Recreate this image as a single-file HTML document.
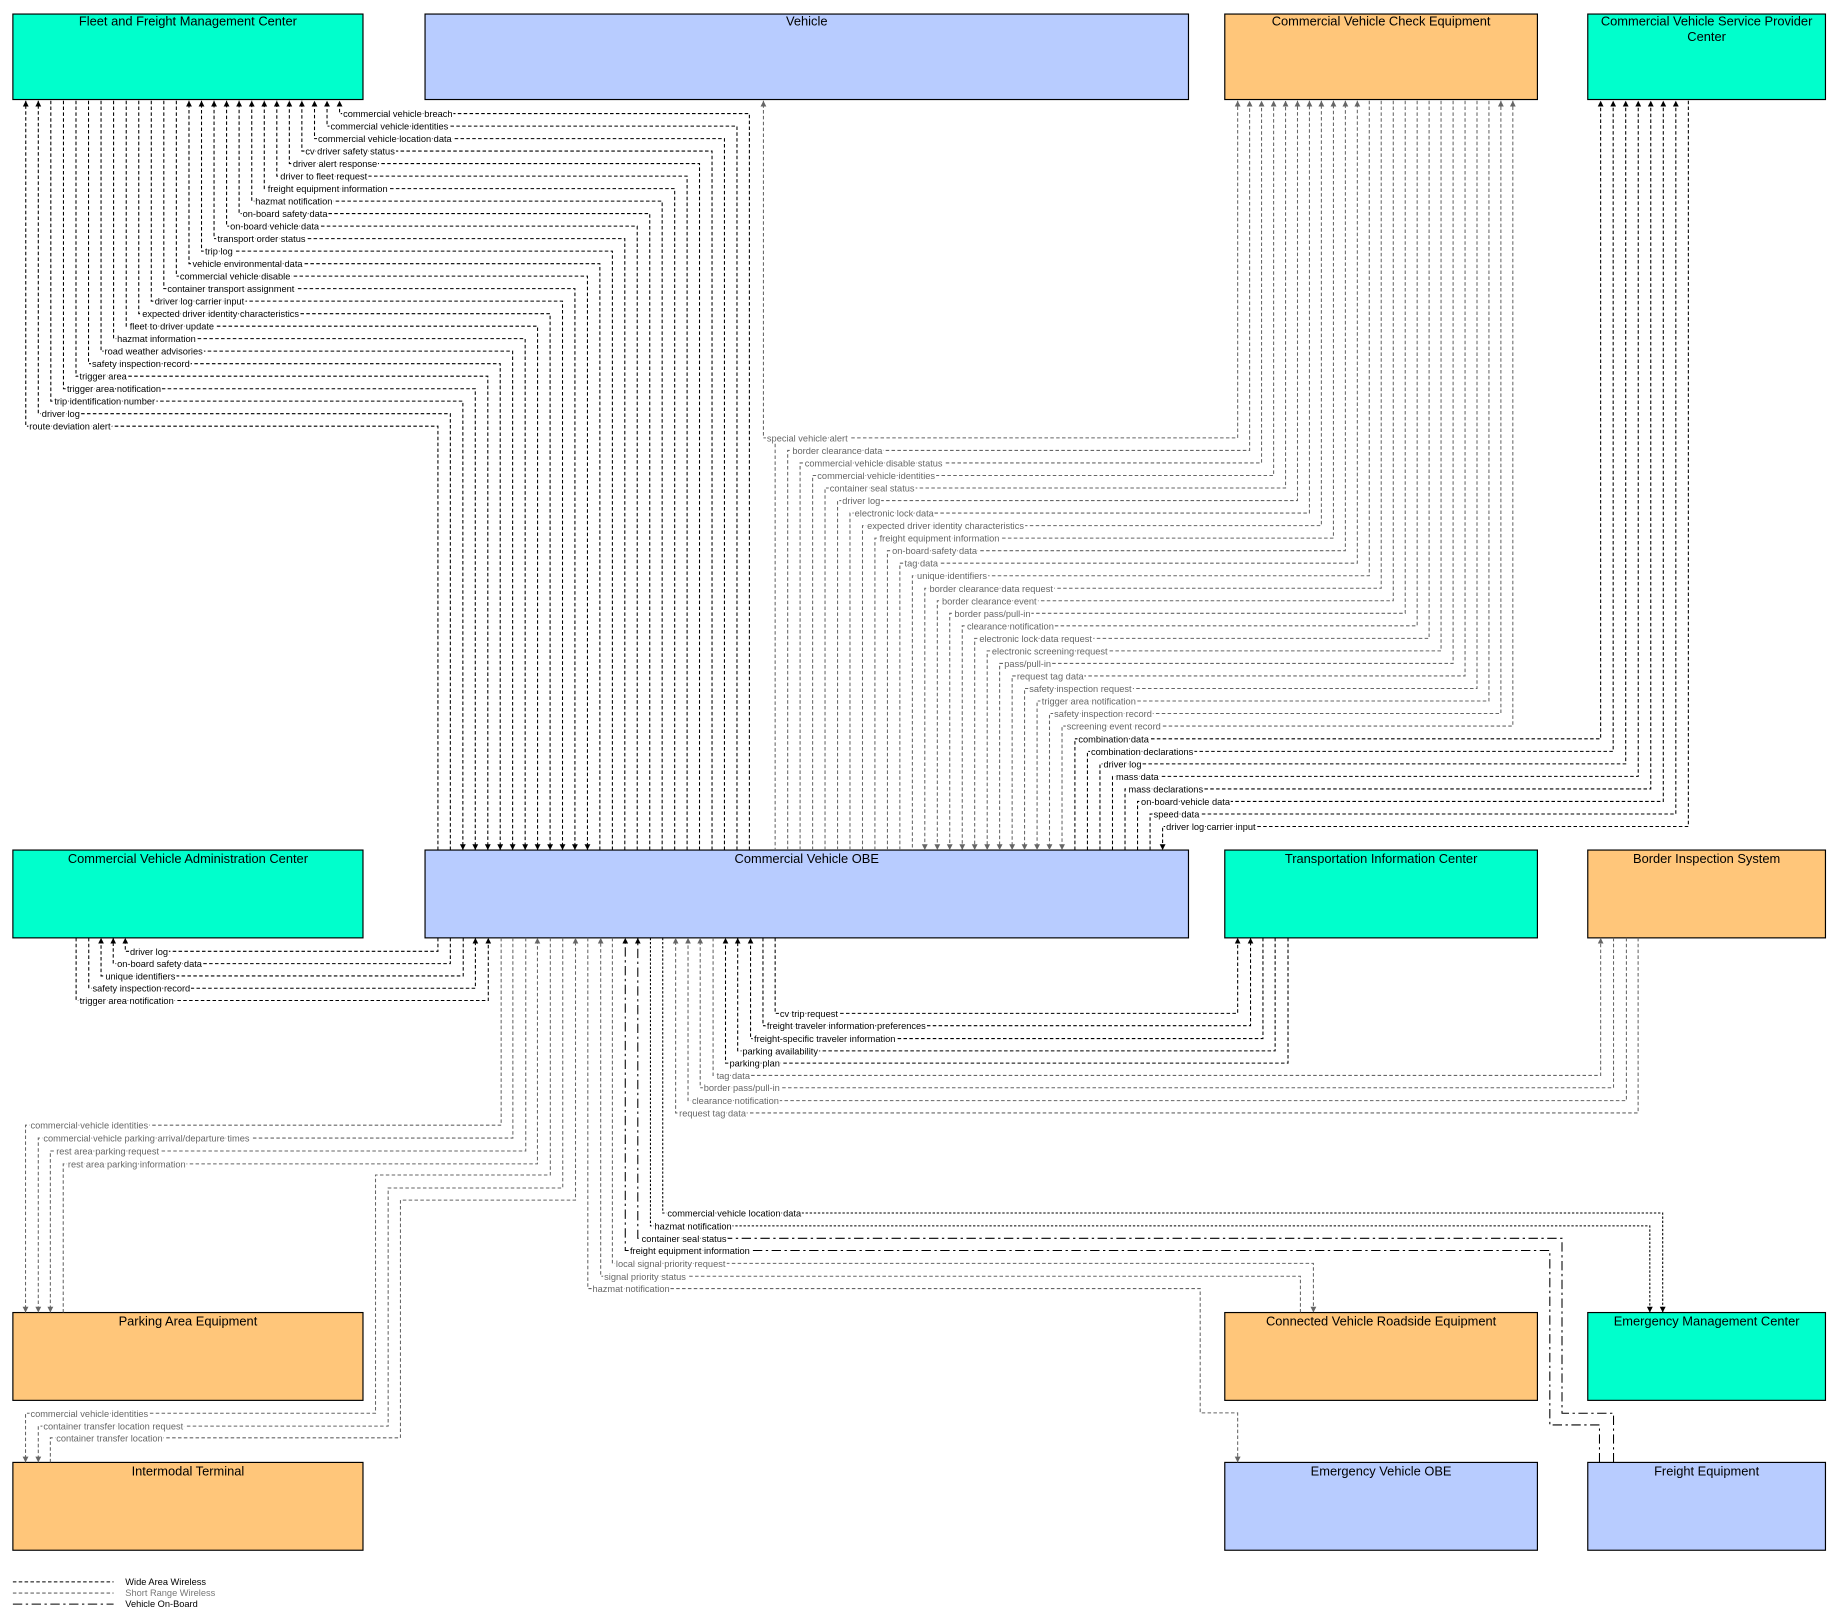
<!DOCTYPE html>
<html><head><meta charset="utf-8"><style>
html,body{margin:0;padding:0;background:#fff;}
svg{display:block;}
text{font-family:"Liberation Sans",Arial,sans-serif;}
.t{font-size:11px;fill:#000;text-anchor:middle;}
.l{font-size:7.9px;fill:#000;paint-order:stroke;stroke:#fff;stroke-width:2.5px;}
.lg{font-size:7.9px;fill:#666;paint-order:stroke;stroke:#fff;stroke-width:2.5px;}
.w{fill:none;stroke:#000;stroke-width:0.9;stroke-dasharray:3,2;}
.s{fill:none;stroke:#666;stroke-width:0.9;stroke-dasharray:3,2;}
.d{fill:none;stroke:#000;stroke-width:0.9;stroke-dasharray:2,1.5;}
.v{fill:none;stroke:#000;stroke-width:0.9;stroke-dasharray:8,3,2,3;}
.b{stroke:#000;stroke-width:1;}
</style></head><body>
<svg width="1836" height="1624" viewBox="0 0 1568 1387" preserveAspectRatio="none" xmlns="http://www.w3.org/2000/svg">
<defs>
<marker id="ab" markerUnits="userSpaceOnUse" markerWidth="6" markerHeight="6" refX="5" refY="3" orient="auto-start-reverse"><path d="M0,0.5 L5,3 L0,5.5 Z" fill="#000"/></marker>
<marker id="ag" markerUnits="userSpaceOnUse" markerWidth="6" markerHeight="6" refX="5" refY="3" orient="auto-start-reverse"><path d="M0,0.5 L5,3 L0,5.5 Z" fill="#666"/></marker>
</defs>
<rect width="1568" height="1387" fill="#fff"/>

<!-- Boxes -->
<rect class="b" x="11" y="12" width="299" height="73" fill="#00FFCC"/><text class="t" x="160.5" y="22">Fleet and Freight Management Center</text>
<rect class="b" x="363" y="12" width="652" height="73" fill="#B8CCFF"/><text class="t" x="689" y="22">Vehicle</text>
<rect class="b" x="1046" y="12" width="267" height="73" fill="#FFC67A"/><text class="t" x="1179.5" y="22">Commercial Vehicle Check Equipment</text>
<rect class="b" x="1356" y="12" width="203" height="73" fill="#00FFCC"/><text class="t" x="1457.5" y="22">Commercial Vehicle Service Provider</text><text class="t" x="1457.5" y="35">Center</text>
<rect class="b" x="11" y="726" width="299" height="75" fill="#00FFCC"/><text class="t" x="160.5" y="737">Commercial Vehicle Administration Center</text>
<rect class="b" x="363" y="726" width="652" height="75" fill="#B8CCFF"/><text class="t" x="689" y="737">Commercial Vehicle OBE</text>
<rect class="b" x="1046" y="726" width="267" height="75" fill="#00FFCC"/><text class="t" x="1179.5" y="737">Transportation Information Center</text>
<rect class="b" x="1356" y="726" width="203" height="75" fill="#FFC67A"/><text class="t" x="1457.5" y="737">Border Inspection System</text>
<rect class="b" x="11" y="1121" width="299" height="75" fill="#FFC67A"/><text class="t" x="160.5" y="1132">Parking Area Equipment</text>
<rect class="b" x="1046" y="1121" width="267" height="75" fill="#FFC67A"/><text class="t" x="1179.5" y="1132">Connected Vehicle Roadside Equipment</text>
<rect class="b" x="1356" y="1121" width="203" height="75" fill="#00FFCC"/><text class="t" x="1457.5" y="1132">Emergency Management Center</text>
<rect class="b" x="11" y="1249" width="299" height="75" fill="#FFC67A"/><text class="t" x="160.5" y="1260">Intermodal Terminal</text>
<rect class="b" x="1046" y="1249" width="267" height="75" fill="#B8CCFF"/><text class="t" x="1179.5" y="1260">Emergency Vehicle OBE</text>
<rect class="b" x="1356" y="1249" width="203" height="75" fill="#B8CCFF"/><text class="t" x="1457.5" y="1260">Freight Equipment</text>

<!-- Fleet <-> OBE -->
<polyline class="w" points="640,726 640,97 290,97 290,86" marker-end="url(#ab)"/>
<polyline class="w" points="629.4,726 629.4,107.7 279.3,107.7 279.3,86" marker-end="url(#ab)"/>
<polyline class="w" points="618.7,726 618.7,118.4 268.6,118.4 268.6,86" marker-end="url(#ab)"/>
<polyline class="w" points="608.1,726 608.1,129 257.8,129 257.8,86" marker-end="url(#ab)"/>
<polyline class="w" points="597.4,726 597.4,139.7 247.1,139.7 247.1,86" marker-end="url(#ab)"/>
<polyline class="w" points="586.8,726 586.8,150.4 236.4,150.4 236.4,86" marker-end="url(#ab)"/>
<polyline class="w" points="576.2,726 576.2,161.1 225.7,161.1 225.7,86" marker-end="url(#ab)"/>
<polyline class="w" points="565.5,726 565.5,171.8 215,171.8 215,86" marker-end="url(#ab)"/>
<polyline class="w" points="554.9,726 554.9,182.4 204.2,182.4 204.2,86" marker-end="url(#ab)"/>
<polyline class="w" points="544.2,726 544.2,193.1 193.5,193.1 193.5,86" marker-end="url(#ab)"/>
<polyline class="w" points="533.6,726 533.6,203.8 182.8,203.8 182.8,86" marker-end="url(#ab)"/>
<polyline class="w" points="523,726 523,214.5 172.1,214.5 172.1,86" marker-end="url(#ab)"/>
<polyline class="w" points="512.3,726 512.3,225.2 161.4,225.2 161.4,86" marker-end="url(#ab)"/>
<polyline class="w" points="150.6,86 150.6,235.8 501.7,235.8 501.7,726" marker-end="url(#ab)"/>
<polyline class="w" points="139.9,86 139.9,246.5 491,246.5 491,726" marker-end="url(#ab)"/>
<polyline class="w" points="129.2,86 129.2,257.2 480.4,257.2 480.4,726" marker-end="url(#ab)"/>
<polyline class="w" points="118.5,86 118.5,267.9 469.8,267.9 469.8,726" marker-end="url(#ab)"/>
<polyline class="w" points="107.8,86 107.8,278.6 459.1,278.6 459.1,726" marker-end="url(#ab)"/>
<polyline class="w" points="97,86 97,289.2 448.5,289.2 448.5,726" marker-end="url(#ab)"/>
<polyline class="w" points="86.3,86 86.3,299.9 437.8,299.9 437.8,726" marker-end="url(#ab)"/>
<polyline class="w" points="75.6,86 75.6,310.6 427.2,310.6 427.2,726" marker-end="url(#ab)"/>
<polyline class="w" points="64.9,86 64.9,321.3 416.6,321.3 416.6,726" marker-end="url(#ab)"/>
<polyline class="w" points="54.2,86 54.2,332 405.9,332 405.9,726" marker-end="url(#ab)"/>
<polyline class="w" points="43.4,86 43.4,342.6 395.3,342.6 395.3,726" marker-end="url(#ab)"/>
<polyline class="w" points="384.6,726 384.6,353.3 32.7,353.3 32.7,86" marker-end="url(#ab)"/>
<polyline class="w" points="374,726 374,364 22,364 22,86" marker-end="url(#ab)"/>
<text class="l" x="293" y="100">commercial vehicle breach</text>
<text class="l" x="282.3" y="110.7">commercial vehicle identities</text>
<text class="l" x="271.6" y="121.4">commercial vehicle location data</text>
<text class="l" x="260.8" y="132">cv driver safety status</text>
<text class="l" x="250.1" y="142.7">driver alert response</text>
<text class="l" x="239.4" y="153.4">driver to fleet request</text>
<text class="l" x="228.7" y="164.1">freight equipment information</text>
<text class="l" x="218" y="174.8">hazmat notification</text>
<text class="l" x="207.2" y="185.4">on-board safety data</text>
<text class="l" x="196.5" y="196.1">on-board vehicle data</text>
<text class="l" x="185.8" y="206.8">transport order status</text>
<text class="l" x="175.1" y="217.5">trip log</text>
<text class="l" x="164.4" y="228.2">vehicle environmental data</text>
<text class="l" x="153.6" y="238.8">commercial vehicle disable</text>
<text class="l" x="142.9" y="249.5">container transport assignment</text>
<text class="l" x="132.2" y="260.2">driver log carrier input</text>
<text class="l" x="121.5" y="270.9">expected driver identity characteristics</text>
<text class="l" x="110.8" y="281.6">fleet to driver update</text>
<text class="l" x="100" y="292.2">hazmat information</text>
<text class="l" x="89.3" y="302.9">road weather advisories</text>
<text class="l" x="78.6" y="313.6">safety inspection record</text>
<text class="l" x="67.9" y="324.3">trigger area</text>
<text class="l" x="57.2" y="335">trigger area notification</text>
<text class="l" x="46.4" y="345.6">trip identification number</text>
<text class="l" x="35.7" y="356.3">driver log</text>
<text class="l" x="25" y="367">route deviation alert</text>

<!-- Vehicle / CVCE special vehicle alert -->
<polyline class="s" points="1057,86 1057,374 652,374 652,86" marker-start="url(#ag)" marker-end="url(#ag)"/>
<polyline class="s" points="662,379 662,726"/>
<text class="lg" x="655" y="377">special vehicle alert</text>

<!-- CVCE <-> OBE -->
<polyline class="s" points="672.7,726 672.7,384.7 1067.2,384.7 1067.2,86" marker-end="url(#ag)"/>
<polyline class="s" points="683.3,726 683.3,395.4 1077.4,395.4 1077.4,86" marker-end="url(#ag)"/>
<polyline class="s" points="694,726 694,406.1 1087.7,406.1 1087.7,86" marker-end="url(#ag)"/>
<polyline class="s" points="704.6,726 704.6,416.8 1097.9,416.8 1097.9,86" marker-end="url(#ag)"/>
<polyline class="s" points="715.3,726 715.3,427.5 1108.1,427.5 1108.1,86" marker-end="url(#ag)"/>
<polyline class="s" points="725.9,726 725.9,438.2 1118.3,438.2 1118.3,86" marker-end="url(#ag)"/>
<polyline class="s" points="736.6,726 736.6,448.9 1128.5,448.9 1128.5,86" marker-end="url(#ag)"/>
<polyline class="s" points="747.2,726 747.2,459.6 1138.8,459.6 1138.8,86" marker-end="url(#ag)"/>
<polyline class="s" points="757.9,726 757.9,470.3 1149,470.3 1149,86" marker-end="url(#ag)"/>
<polyline class="s" points="768.5,726 768.5,481 1159.2,481 1159.2,86" marker-end="url(#ag)"/>
<polyline class="s" points="1169.4,86 1169.4,491.7 779.2,491.7 779.2,726"/>
<polyline class="s" points="1179.6,86 1179.6,502.4 789.8,502.4 789.8,726" marker-end="url(#ag)"/>
<polyline class="s" points="1189.9,86 1189.9,513.1 800.5,513.1 800.5,726" marker-end="url(#ag)"/>
<polyline class="s" points="1200.1,86 1200.1,523.8 811.1,523.8 811.1,726" marker-end="url(#ag)"/>
<polyline class="s" points="1210.3,86 1210.3,534.5 821.8,534.5 821.8,726" marker-end="url(#ag)"/>
<polyline class="s" points="1220.5,86 1220.5,545.2 832.4,545.2 832.4,726" marker-end="url(#ag)"/>
<polyline class="s" points="1230.7,86 1230.7,555.9 843.1,555.9 843.1,726" marker-end="url(#ag)"/>
<polyline class="s" points="1241,86 1241,566.6 853.7,566.6 853.7,726" marker-end="url(#ag)"/>
<polyline class="s" points="1251.2,86 1251.2,577.3 864.4,577.3 864.4,726" marker-end="url(#ag)"/>
<polyline class="s" points="1261.4,86 1261.4,588 875,588 875,726" marker-end="url(#ag)"/>
<polyline class="s" points="1271.6,86 1271.6,598.7 885.7,598.7 885.7,726" marker-end="url(#ag)"/>
<polyline class="s" points="1281.8,86 1281.8,609.4 896.3,609.4 896.3,726" marker-start="url(#ag)" marker-end="url(#ag)"/>
<polyline class="s" points="1292,86 1292,620.1 907,620.1 907,726" marker-start="url(#ag)" marker-end="url(#ag)"/>
<text class="lg" x="676.7" y="387.7">border clearance data</text>
<text class="lg" x="687.3" y="398.4">commercial vehicle disable status</text>
<text class="lg" x="698" y="409.1">commercial vehicle identities</text>
<text class="lg" x="708.6" y="419.8">container seal status</text>
<text class="lg" x="719.3" y="430.5">driver log</text>
<text class="lg" x="729.9" y="441.2">electronic lock data</text>
<text class="lg" x="740.6" y="451.9">expected driver identity characteristics</text>
<text class="lg" x="751.2" y="462.6">freight equipment information</text>
<text class="lg" x="761.9" y="473.3">on-board safety data</text>
<text class="lg" x="772.5" y="484">tag data</text>
<text class="lg" x="783.2" y="494.7">unique identifiers</text>
<text class="lg" x="793.8" y="505.4">border clearance data request</text>
<text class="lg" x="804.5" y="516.1">border clearance event</text>
<text class="lg" x="815.1" y="526.8">border pass/pull-in</text>
<text class="lg" x="825.8" y="537.5">clearance notification</text>
<text class="lg" x="836.4" y="548.2">electronic lock data request</text>
<text class="lg" x="847.1" y="558.9">electronic screening request</text>
<text class="lg" x="857.7" y="569.6">pass/pull-in</text>
<text class="lg" x="868.4" y="580.3">request tag data</text>
<text class="lg" x="879" y="591">safety inspection request</text>
<text class="lg" x="889.7" y="601.7">trigger area notification</text>
<text class="lg" x="900.3" y="612.4">safety inspection record</text>
<text class="lg" x="911" y="623.1">screening event record</text>

<!-- CVSP <-> OBE -->
<polyline class="w" points="918,726 918,631 1367,631 1367,86" marker-end="url(#ab)"/>
<polyline class="w" points="928.7,726 928.7,641.7 1377.7,641.7 1377.7,86" marker-end="url(#ab)"/>
<polyline class="w" points="939.4,726 939.4,652.4 1388.4,652.4 1388.4,86" marker-end="url(#ab)"/>
<polyline class="w" points="950.1,726 950.1,663.1 1399.1,663.1 1399.1,86" marker-end="url(#ab)"/>
<polyline class="w" points="960.8,726 960.8,673.8 1409.8,673.8 1409.8,86" marker-end="url(#ab)"/>
<polyline class="w" points="971.5,726 971.5,684.5 1420.5,684.5 1420.5,86" marker-end="url(#ab)"/>
<polyline class="w" points="982.2,726 982.2,695.2 1431.2,695.2 1431.2,86" marker-end="url(#ab)"/>
<polyline class="w" points="1441.9,86 1441.9,705.9 992.9,705.9 992.9,726" marker-end="url(#ab)"/>
<text class="l" x="921" y="634">combination data</text>
<text class="l" x="931.7" y="644.7">combination declarations</text>
<text class="l" x="942.4" y="655.4">driver log</text>
<text class="l" x="953.1" y="666.1">mass data</text>
<text class="l" x="963.8" y="676.8">mass declarations</text>
<text class="l" x="974.5" y="687.5">on-board vehicle data</text>
<text class="l" x="985.2" y="698.2">speed data</text>
<text class="l" x="995.9" y="708.9">driver log carrier input</text>

<!-- Admin <-> OBE -->
<polyline class="w" points="374,801 374,812.5 107,812.5 107,801" marker-end="url(#ab)"/>
<polyline class="w" points="384.6,801 384.6,823 96.7,823 96.7,801" marker-end="url(#ab)"/>
<polyline class="w" points="395.6,801 395.6,833.5 86.3,833.5 86.3,801" marker-end="url(#ab)"/>
<polyline class="w" points="75.8,801 75.8,844 406,844 406,801" marker-end="url(#ab)"/>
<polyline class="w" points="65,801 65,854.5 417,854.5 417,801" marker-end="url(#ab)"/>
<text class="l" x="111" y="815.5">driver log</text>
<text class="l" x="100" y="826">on-board safety data</text>
<text class="l" x="90" y="836.5">unique identifiers</text>
<text class="l" x="79" y="847">safety inspection record</text>
<text class="l" x="68" y="857.5">trigger area notification</text>

<!-- TIC <-> OBE -->
<polyline class="w" points="662,801 662,865.5 1057,865.5 1057,801" marker-end="url(#ab)"/>
<polyline class="w" points="651.6,801 651.6,876 1068,876 1068,801" marker-end="url(#ab)"/>
<polyline class="w" points="1078.6,801 1078.6,887 641,887 641,801" marker-end="url(#ab)"/>
<polyline class="w" points="1089,801 1089,897.5 630,897.5 630,801" marker-end="url(#ab)"/>
<polyline class="w" points="1100,801 1100,908 619.6,908 619.6,801" marker-end="url(#ab)"/>
<text class="l" x="666" y="868.5">cv trip request</text>
<text class="l" x="655" y="879">freight traveler information preferences</text>
<text class="l" x="644" y="890">freight-specific traveler information</text>
<text class="l" x="634" y="900.5">parking availability</text>
<text class="l" x="623" y="911">parking plan</text>

<!-- Border <-> OBE -->
<polyline class="s" points="609,801 609,918.5 1367,918.5 1367,801" marker-end="url(#ag)"/>
<polyline class="s" points="1378,801 1378,929 598,929 598,801" marker-end="url(#ag)"/>
<polyline class="s" points="1389,801 1389,940 587.6,940 587.6,801" marker-end="url(#ag)"/>
<polyline class="s" points="1399,801 1399,950.5 577,950.5 577,801" marker-end="url(#ag)"/>
<text class="lg" x="612" y="921.5">tag data</text>
<text class="lg" x="601" y="932">border pass/pull-in</text>
<text class="lg" x="591" y="943">clearance notification</text>
<text class="lg" x="580" y="953.5">request tag data</text>

<!-- Parking <-> OBE -->
<polyline class="s" points="428,801 428,961 21.8,961 21.8,1121" marker-end="url(#ag)"/>
<polyline class="s" points="438,801 438,972 32.7,972 32.7,1121" marker-end="url(#ag)"/>
<polyline class="s" points="449,801 449,983 43,983 43,1121" marker-end="url(#ag)"/>
<polyline class="s" points="54,1121 54,994 459,994 459,801" marker-end="url(#ag)"/>
<text class="lg" x="26" y="964">commercial vehicle identities</text>
<text class="lg" x="37" y="975">commercial vehicle parking arrival/departure times</text>
<text class="lg" x="48" y="986">rest area parking request</text>
<text class="lg" x="58" y="997">rest area parking information</text>

<!-- Intermodal <-> OBE -->
<polyline class="s" points="470,801 470,1003.5 320.7,1003.5 320.7,1207 21.8,1207 21.8,1249" marker-end="url(#ag)"/>
<polyline class="s" points="480.6,801 480.6,1014.6 331.5,1014.6 331.5,1218 32.7,1218 32.7,1249" marker-end="url(#ag)"/>
<polyline class="s" points="43,1249 43,1228 342,1228 342,1025 491.5,1025 491.5,801" marker-end="url(#ag)"/>
<text class="lg" x="26" y="1210">commercial vehicle identities</text>
<text class="lg" x="37" y="1221">container transfer location request</text>
<text class="lg" x="48" y="1231">container transfer location</text>

<!-- EMC -->
<polyline class="d" points="566,801 566,1036 1420,1036 1420,1121" marker-end="url(#ab)"/>
<polyline class="d" points="555.5,801 555.5,1047 1409,1047 1409,1121" marker-end="url(#ab)"/>
<text class="l" x="570" y="1039">commercial vehicle location data</text>
<text class="l" x="559" y="1050">hazmat notification</text>

<!-- Freight equipment -->
<polyline class="v" points="1378,1249 1378,1207 1334,1207 1334,1057.6 544.7,1057.6 544.7,801" marker-end="url(#ab)"/>
<polyline class="v" points="1366,1249 1366,1217 1323.6,1217 1323.6,1068 534,1068 534,801" marker-end="url(#ab)"/>
<text class="l" x="548" y="1060.6">container seal status</text>
<text class="l" x="538" y="1071">freight equipment information</text>

<!-- CVRE -->
<polyline class="s" points="523,801 523,1079 1121.7,1079 1121.7,1121" marker-end="url(#ag)"/>
<polyline class="s" points="1110.6,1121 1110.6,1090 513,1090 513,801" marker-end="url(#ag)"/>
<text class="lg" x="526" y="1082">local signal priority request</text>
<text class="lg" x="516" y="1093">signal priority status</text>

<!-- EV OBE -->
<polyline class="s" points="502,801 502,1100.5 1025,1100.5 1025,1206.7 1057,1206.7 1057,1249" marker-end="url(#ag)"/>
<text class="lg" x="506" y="1103.5">hazmat notification</text>

<!-- Legend -->
<line class="w" x1="11" y1="1351" x2="97" y2="1351"/>
<line class="s" x1="11" y1="1360.6" x2="97" y2="1360.6"/>
<line class="v" x1="11" y1="1370" x2="97" y2="1370"/>
<text x="107" y="1353.5" style="font-size:7.9px;fill:#000">Wide Area Wireless</text>
<text x="107" y="1363" style="font-size:7.9px;fill:#777">Short Range Wireless</text>
<text x="107" y="1372.5" style="font-size:7.9px;fill:#000">Vehicle On-Board</text>
</svg>
</body></html>
